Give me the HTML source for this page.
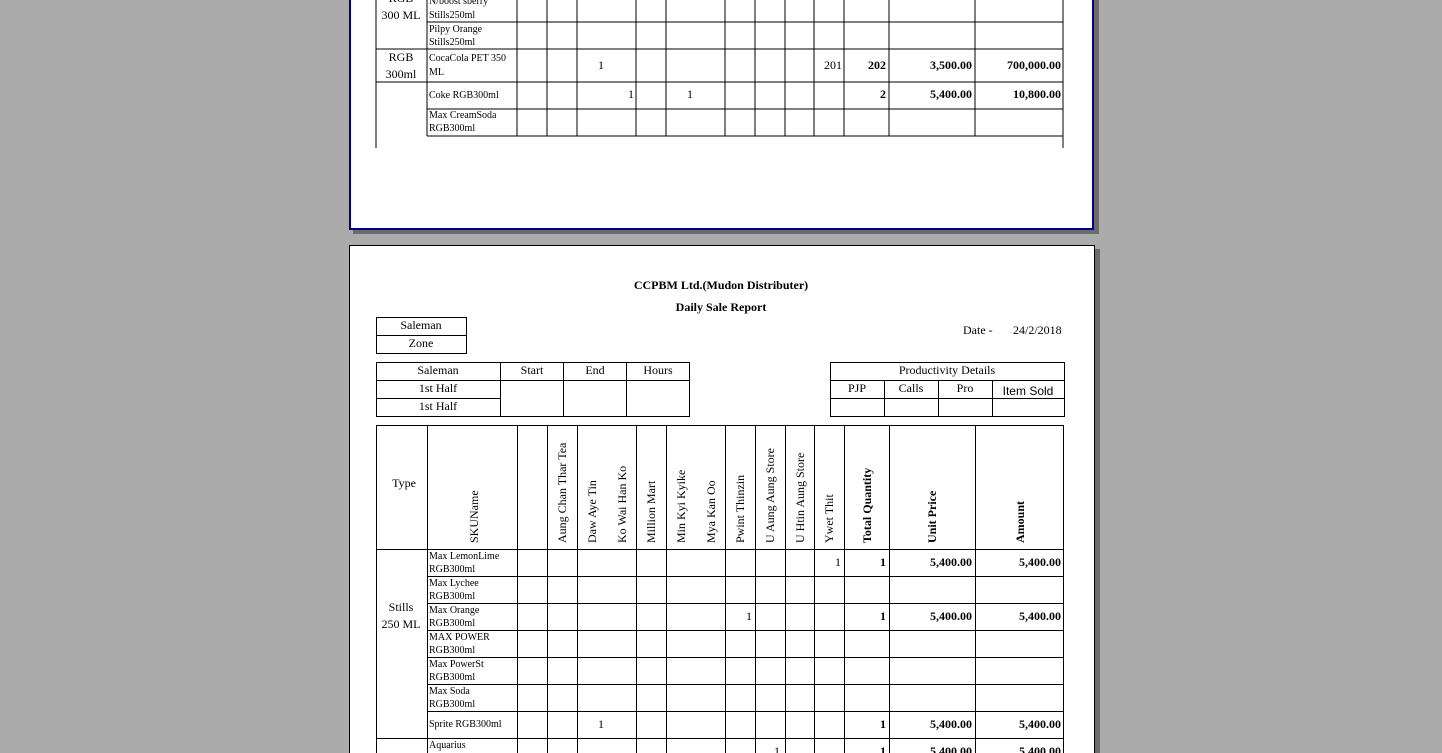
<!DOCTYPE html>
<html><head><meta charset="utf-8"><style>
html,body{margin:0;padding:0;background:#ababab;width:1442px;height:753px;overflow:hidden}
svg{display:block}
text{font-family:"Liberation Serif",serif;fill:#000}
.s{font-size:10px}
.m{font-size:12px}
.b{font-weight:bold}
</style></head><body>
<svg width="1442" height="753" viewBox="0 0 1442 753" xmlns="http://www.w3.org/2000/svg">
<rect x="1094" y="0" width="5" height="234" fill="#6b6b6b"/>
<rect x="353" y="230" width="746" height="4" fill="#6b6b6b"/>
<rect x="349" y="-5" width="745" height="235" fill="#fff"/>
<path d="M350 -5 V229 H1093 V-5" fill="none" stroke="#00008b" stroke-width="2"/>
<g stroke="#000" stroke-width="1" shape-rendering="crispEdges">
<line x1="376" y1="0" x2="376" y2="148"/>
<line x1="1063" y1="0" x2="1063" y2="148"/>
<line x1="427" y1="0" x2="427" y2="136"/>
<line x1="517" y1="0" x2="517" y2="136"/>
<line x1="547" y1="0" x2="547" y2="136"/>
<line x1="577" y1="0" x2="577" y2="136"/>
<line x1="636" y1="0" x2="636" y2="136"/>
<line x1="666" y1="0" x2="666" y2="136"/>
<line x1="725" y1="0" x2="725" y2="136"/>
<line x1="755" y1="0" x2="755" y2="136"/>
<line x1="785" y1="0" x2="785" y2="136"/>
<line x1="814" y1="0" x2="814" y2="136"/>
<line x1="844" y1="0" x2="844" y2="136"/>
<line x1="889" y1="0" x2="889" y2="136"/>
<line x1="975" y1="0" x2="975" y2="136"/>
<line x1="427" y1="22" x2="1063" y2="22"/>
<line x1="376" y1="49" x2="1063" y2="49"/>
<line x1="376" y1="82" x2="1063" y2="82"/>
<line x1="427" y1="109" x2="1063" y2="109"/>
<line x1="427" y1="136" x2="1063" y2="136"/>
</g>
<text class="m" x="401" y="2" text-anchor="middle">RGB</text>
<text class="m" x="401" y="19" text-anchor="middle">300 ML</text>
<text class="s" x="429" y="4">N/boost sberry</text>
<text class="s" x="429" y="18">Stills250ml</text>
<text class="s" x="429" y="32">Pilpy Orange</text>
<text class="s" x="429" y="45">Stills250ml</text>
<text class="m" x="401" y="61" text-anchor="middle">RGB</text>
<text class="m" x="401" y="78" text-anchor="middle">300ml</text>
<text class="s" x="429" y="61">CocaCola PET 350</text>
<text class="s" x="429" y="75">ML</text>
<text class="m" x="601" y="69" text-anchor="middle">1</text>
<text class="m" x="842" y="69" text-anchor="end">201</text>
<text class="m b" x="886" y="69" text-anchor="end">202</text>
<text class="m b" x="972" y="69" text-anchor="end">3,500.00</text>
<text class="m b" x="1061" y="69" text-anchor="end">700,000.00</text>
<text class="s" x="429" y="98">Coke RGB300ml</text>
<text class="m" x="634" y="98" text-anchor="end">1</text>
<text class="m" x="690" y="98" text-anchor="middle">1</text>
<text class="m b" x="886" y="98" text-anchor="end">2</text>
<text class="m b" x="972" y="98" text-anchor="end">5,400.00</text>
<text class="m b" x="1061" y="98" text-anchor="end">10,800.00</text>
<text class="s" x="429" y="118">Max CreamSoda</text>
<text class="s" x="429" y="131">RGB300ml</text>

<rect x="1095" y="249" width="5" height="504" fill="#6b6b6b"/>
<rect x="349" y="245" width="746" height="508" fill="#fff"/>
<path d="M349.5 753 V245.5 H1094.5 V753" fill="none" stroke="#000" stroke-width="1"/>
<text class="m b" x="721" y="289" text-anchor="middle">CCPBM Ltd.(Mudon Distributer)</text>
<text class="m b" x="721" y="311" text-anchor="middle">Daily Sale Report</text>
<text class="m" x="963" y="334">Date -</text>
<text class="m" x="1013" y="334">24/2/2018</text>
<g stroke="#000" stroke-width="1" fill="none" shape-rendering="crispEdges">
<rect x="376.5" y="317.5" width="90" height="36"/>
<line x1="376" y1="335.5" x2="466" y2="335.5"/>
<rect x="376.5" y="362.5" width="313" height="54"/>
<line x1="376" y1="380.5" x2="690" y2="380.5"/>
<line x1="376" y1="398.5" x2="500" y2="398.5"/>
<line x1="500.5" y1="362" x2="500.5" y2="417"/>
<line x1="563.5" y1="362" x2="563.5" y2="417"/>
<line x1="626.5" y1="362" x2="626.5" y2="417"/>
<rect x="830.5" y="362.5" width="234" height="54"/>
<line x1="830" y1="380.5" x2="1064" y2="380.5"/>
<line x1="830" y1="398.5" x2="1064" y2="398.5"/>
<line x1="884.5" y1="380" x2="884.5" y2="417"/>
<line x1="938.5" y1="380" x2="938.5" y2="417"/>
<line x1="992.5" y1="380" x2="992.5" y2="417"/>
</g>
<text class="m" x="421" y="329" text-anchor="middle">Saleman</text>
<text class="m" x="421" y="347" text-anchor="middle">Zone</text>
<text class="m" x="438" y="374" text-anchor="middle">Saleman</text>
<text class="m" x="438" y="392" text-anchor="middle">1st Half</text>
<text class="m" x="438" y="410" text-anchor="middle">1st Half</text>
<text class="m" x="532" y="374" text-anchor="middle">Start</text>
<text class="m" x="595" y="374" text-anchor="middle">End</text>
<text class="m" x="658" y="374" text-anchor="middle">Hours</text>
<text class="m" x="947" y="374" text-anchor="middle">Productivity Details</text>
<text class="m" x="857" y="392" text-anchor="middle">PJP</text>
<text class="m" x="911" y="392" text-anchor="middle">Calls</text>
<text class="m" x="965" y="392" text-anchor="middle">Pro</text>
<text x="1028" y="395" text-anchor="middle" style="font-family:'Liberation Sans',sans-serif;font-size:12px">Item Sold</text>

<g stroke="#000" stroke-width="1" shape-rendering="crispEdges">
<line x1="376" y1="425.5" x2="1064" y2="425.5"/>
<line x1="376" y1="549.5" x2="1064" y2="549.5"/>
<line x1="427" y1="576.5" x2="1064" y2="576.5"/>
<line x1="427" y1="603.5" x2="1064" y2="603.5"/>
<line x1="427" y1="630.5" x2="1064" y2="630.5"/>
<line x1="427" y1="657.5" x2="1064" y2="657.5"/>
<line x1="427" y1="684.5" x2="1064" y2="684.5"/>
<line x1="427" y1="711.5" x2="1064" y2="711.5"/>
<line x1="376" y1="738.5" x2="1064" y2="738.5"/>
<line x1="376.5" y1="425" x2="376.5" y2="753"/>
<line x1="427.5" y1="425" x2="427.5" y2="753"/>
<line x1="517.5" y1="425" x2="517.5" y2="753"/>
<line x1="547.5" y1="425" x2="547.5" y2="753"/>
<line x1="577.5" y1="425" x2="577.5" y2="753"/>
<line x1="636.5" y1="425" x2="636.5" y2="753"/>
<line x1="666.5" y1="425" x2="666.5" y2="753"/>
<line x1="725.5" y1="425" x2="725.5" y2="753"/>
<line x1="755.5" y1="425" x2="755.5" y2="753"/>
<line x1="785.5" y1="425" x2="785.5" y2="753"/>
<line x1="814.5" y1="425" x2="814.5" y2="753"/>
<line x1="844.5" y1="425" x2="844.5" y2="753"/>
<line x1="889.5" y1="425" x2="889.5" y2="753"/>
<line x1="975.5" y1="425" x2="975.5" y2="753"/>
<line x1="1063.5" y1="425" x2="1063.5" y2="753"/>
</g>
<text class="m" x="404" y="487" text-anchor="middle">Type</text>
<text class="m" transform="translate(478,543) rotate(-90)">SKUName</text>
<text class="m" transform="translate(566,543) rotate(-90)">Aung Chan Thar Tea</text>
<text class="m" transform="translate(596,543) rotate(-90)">Daw Aye Tin</text>
<text class="m" transform="translate(626,543) rotate(-90)">Ko Wai Han Ko</text>
<text class="m" transform="translate(655,543) rotate(-90)">Million Mart</text>
<text class="m" transform="translate(685,543) rotate(-90)">Min Kyi Kyike</text>
<text class="m" transform="translate(715,543) rotate(-90)">Mya Kan Oo</text>
<text class="m" transform="translate(744,543) rotate(-90)">Pwint Thinzin</text>
<text class="m" transform="translate(774,543) rotate(-90)">U Aung Aung Store</text>
<text class="m" transform="translate(804,543) rotate(-90)">U Htin Aung Store</text>
<text class="m" transform="translate(833,543) rotate(-90)">Ywet Thit</text>
<text class="m b" transform="translate(871,543) rotate(-90)">Total Quantity</text>
<text class="m b" transform="translate(936,543) rotate(-90)">Unit Price</text>
<text class="m b" transform="translate(1024,543) rotate(-90)">Amount</text>
<text class="m" x="401" y="611" text-anchor="middle">Stills</text>
<text class="m" x="401" y="628" text-anchor="middle">250 ML</text>
<text class="s" x="429" y="559">Max LemonLime</text><text class="s" x="429" y="572">RGB300ml</text>
<text class="s" x="429" y="586">Max Lychee</text><text class="s" x="429" y="599">RGB300ml</text>
<text class="s" x="429" y="613">Max Orange</text><text class="s" x="429" y="626">RGB300ml</text>
<text class="s" x="429" y="640">MAX POWER</text><text class="s" x="429" y="653">RGB300ml</text>
<text class="s" x="429" y="667">Max PowerSt</text><text class="s" x="429" y="680">RGB300ml</text>
<text class="s" x="429" y="694">Max Soda</text><text class="s" x="429" y="707">RGB300ml</text>
<text class="s" x="429" y="727">Sprite RGB300ml</text>
<text class="s" x="429" y="748">Aquarius</text>
<text class="m" x="841" y="566" text-anchor="end">1</text>
<text class="m b" x="886" y="566" text-anchor="end">1</text>
<text class="m b" x="972" y="566" text-anchor="end">5,400.00</text>
<text class="m b" x="1061" y="566" text-anchor="end">5,400.00</text>
<text class="m" x="752" y="620" text-anchor="end">1</text>
<text class="m b" x="886" y="620" text-anchor="end">1</text>
<text class="m b" x="972" y="620" text-anchor="end">5,400.00</text>
<text class="m b" x="1061" y="620" text-anchor="end">5,400.00</text>
<text class="m" x="601" y="728" text-anchor="middle">1</text>
<text class="m b" x="886" y="728" text-anchor="end">1</text>
<text class="m b" x="972" y="728" text-anchor="end">5,400.00</text>
<text class="m b" x="1061" y="728" text-anchor="end">5,400.00</text>
<text class="m" x="780" y="755" text-anchor="end">1</text>
<text class="m b" x="886" y="755" text-anchor="end">1</text>
<text class="m b" x="972" y="755" text-anchor="end">5,400.00</text>
<text class="m b" x="1061" y="755" text-anchor="end">5,400.00</text>
</svg>
</body></html>
